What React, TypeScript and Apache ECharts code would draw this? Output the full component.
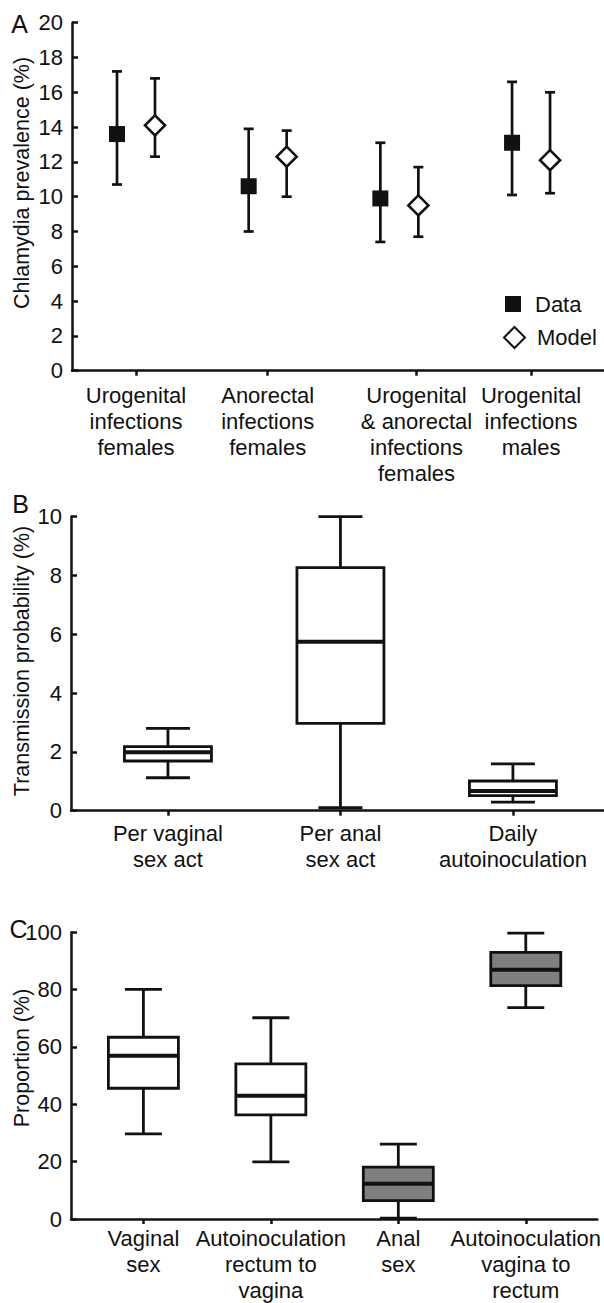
import React, { useEffect, useRef } from "react";
import * as echarts from "echarts";

const FONT = '"Liberation Sans", Arial, Helvetica, sans-serif';
const INK = "#111111";
const GRAY = "#7f7f7f";

// ---------- Panel A: prevalence, data vs model ----------
const aCategories = [
  "Urogenital\ninfections\nfemales",
  "Anorectal\ninfections\nfemales",
  "Urogenital\n& anorectal\ninfections\nfemales",
  "Urogenital\ninfections\nmales",
];
const aLabelPositions = [0, 1, 2.13, 3];
const aDataMean = [13.6, 10.6, 9.9, 13.1];
const aDataLow = [10.7, 8.0, 7.4, 10.1];
const aDataHigh = [17.2, 13.9, 13.1, 16.6];
const aModelMean = [14.1, 12.3, 9.5, 12.1];
const aModelLow = [12.3, 10.0, 7.7, 10.2];
const aModelHigh = [16.8, 13.8, 11.7, 16.0];
const aYTicks = { min: 0, max: 20, interval: 2 };

// ---------- Panel B: transmission probability ----------
const bCategories = ["Per vaginal\nsex act", "Per anal\nsex act", "Daily\nautoinoculation"];
const bLow = [1.12, 0.1, 0.29];
const bQ1 = [1.69, 2.97, 0.51];
const bMedian = [1.99, 5.75, 0.67];
const bQ3 = [2.18, 8.27, 1.01];
const bHigh = [2.8, 10.0, 1.59];
const bYTicks = { min: 0, max: 10, interval: 2 };

// ---------- Panel C: proportion ----------
const cCategories = [
  "Vaginal\nsex",
  "Autoinoculation\nrectum to\nvagina",
  "Anal\nsex",
  "Autoinoculation\nvagina to\nrectum",
];
const cLow = [29.7, 19.9, 0.3, 73.7];
const cQ1 = [45.6, 36.3, 6.4, 81.4];
const cMedian = [56.9, 43.0, 12.3, 86.9];
const cQ3 = [63.4, 54.1, 18.1, 93.0];
const cHigh = [80.1, 70.2, 26.1, 99.7];
const cYTicks = { min: 0, max: 100, interval: 20 };
const cFills = ["#ffffff", "#ffffff", GRAY, GRAY];

function labelFormatter(positions: number[], labels: string[]) {
  return (v: number) => {
    let best = 0;
    let bd = Infinity;
    positions.forEach((p, i) => {
      const d = Math.abs(p - v);
      if (d < bd) {
        bd = d;
        best = i;
      }
    });
    return labels[best];
  };
}

function errorBarRender(offsetPx: number, halfCap: number) {
  return (_params: any, api: any) => {
    const x = api.value(0);
    const pLo = api.coord([x, api.value(1)]);
    const pHi = api.coord([x, api.value(2)]);
    const cx = pLo[0] + offsetPx;
    const style = { stroke: INK, lineWidth: 2.7, fill: null };
    return {
      type: "group",
      children: [
        { type: "line", shape: { x1: cx, y1: pLo[1], x2: cx, y2: pHi[1] }, style },
        { type: "line", shape: { x1: cx - halfCap, y1: pLo[1], x2: cx + halfCap, y2: pLo[1] }, style },
        { type: "line", shape: { x1: cx - halfCap, y1: pHi[1], x2: cx + halfCap, y2: pHi[1] }, style },
      ],
    };
  };
}

function boxRender(boxHalf: number, capHalf: number, fills: string[]) {
  return (params: any, api: any) => {
    const i = api.value(0);
    const low = api.coord([i, api.value(1)]);
    const q1 = api.coord([i, api.value(2)]);
    const med = api.coord([i, api.value(3)]);
    const q3 = api.coord([i, api.value(4)]);
    const high = api.coord([i, api.value(5)]);
    const cx = low[0];
    const st = { stroke: INK, lineWidth: 2.8, fill: null };
    return {
      type: "group",
      children: [
        { type: "line", shape: { x1: cx, y1: low[1], x2: cx, y2: high[1] }, style: st },
        { type: "line", shape: { x1: cx - capHalf, y1: low[1], x2: cx + capHalf, y2: low[1] }, style: st },
        { type: "line", shape: { x1: cx - capHalf, y1: high[1], x2: cx + capHalf, y2: high[1] }, style: st },
        {
          type: "rect",
          shape: { x: cx - boxHalf, y: q3[1], width: boxHalf * 2, height: q1[1] - q3[1] },
          style: { fill: fills[params.dataIndex], stroke: INK, lineWidth: 2.8 },
        },
        {
          type: "line",
          shape: { x1: cx - boxHalf, y1: med[1], x2: cx + boxHalf, y2: med[1] },
          style: { stroke: INK, lineWidth: 4 },
        },
      ],
    };
  };
}

function xAxisCfg(gridIndex: number, min: number, max: number, positions: number[], labels: string[], margin: number) {
  return {
    gridIndex,
    type: "value",
    min,
    max,
    splitLine: { show: false },
    axisLine: { show: true, onZero: false, lineStyle: { color: INK, width: 2.5 } },
    axisTick: { show: true, customValues: positions, length: 5, lineStyle: { color: INK, width: 2.5 } },
    axisLabel: {
      show: true,
      customValues: positions,
      formatter: labelFormatter(positions, labels),
      fontSize: 22,
      lineHeight: 26,
      color: INK,
      fontFamily: FONT,
      margin,
      align: "center",
    },
  };
}

function yAxisCfg(gridIndex: number, t: { min: number; max: number; interval: number }) {
  return {
    gridIndex,
    type: "value",
    min: t.min,
    max: t.max,
    interval: t.interval,
    splitLine: { show: false },
    axisLine: { show: true, onZero: false, lineStyle: { color: INK, width: 2.5 } },
    axisTick: { show: true, inside: true, length: 6, lineStyle: { color: INK, width: 2.5 } },
    axisLabel: { fontSize: 22, color: INK, fontFamily: FONT, margin: 9 },
  };
}

function vText(text: string, x: number, y: number) {
  return {
    type: "text",
    x,
    y,
    rotation: Math.PI / 2,
    style: { text, fill: INK, font: `21.5px ${FONT}`, textAlign: "center", textVerticalAlign: "middle" },
  };
}

function letter(text: string, x: number, y: number) {
  return {
    type: "text",
    x,
    y,
    style: { text, fill: INK, font: `25px ${FONT}`, textAlign: "center", textVerticalAlign: "middle" },
  };
}

export default function App() {
  const ref = useRef<HTMLDivElement>(null);
  useEffect(() => {
    if (!ref.current) return;
    const chart = echarts.init(ref.current, undefined, { renderer: "svg" });
    const option: any = {
      animation: false,
      backgroundColor: "#ffffff",
      textStyle: { fontFamily: FONT, color: INK },
      grid: [
        { left: 72, top: 22.7, right: 0, height: 348 },
        { left: 71, top: 516.7, right: 0, height: 294 },
        { left: 71, top: 932.3, right: 0, height: 287 },
      ],
      xAxis: [
        xAxisCfg(0, -0.486, 3.554, aLabelPositions, aCategories, 12),
        xAxisCfg(1, -0.562, 2.528, bCategories.map((_, i) => i), bCategories, 10),
        xAxisCfg(2, -0.568, 3.561, cCategories.map((_, i) => i), cCategories, 6),
      ],
      yAxis: [yAxisCfg(0, aYTicks), yAxisCfg(1, bYTicks), yAxisCfg(2, cYTicks)],
      legend: [
        {
          data: ["Data"],
          orient: "vertical",
          left: 505,
          top: 293,
          padding: 0,
          itemWidth: 16,
          itemHeight: 16,
          selectedMode: false,
          textStyle: { fontSize: 22, lineHeight: 22, color: INK, fontFamily: FONT, padding: [0, 0, 0, 9] },
        },
        {
          data: ["Model"],
          orient: "vertical",
          left: 503,
          top: 326,
          padding: 0,
          itemWidth: 21,
          itemHeight: 21,
          selectedMode: false,
          textStyle: { fontSize: 22, lineHeight: 22, color: INK, fontFamily: FONT, padding: [0, 0, 0, 7] },
        },
      ],
      graphic: [
        letter("A", 19.5, 23.5),
        letter("B", 20.5, 503.5),
        letter("C", 18.5, 928.5),
        vText("Chlamydia prevalence (%)", 22, 183),
        vText("Transmission probability (%)", 22, 661),
        vText("Proportion (%)", 22, 1058),
      ],
      series: [
        {
          type: "custom",
          name: "dataErr",
          xAxisIndex: 0,
          yAxisIndex: 0,
          renderItem: errorBarRender(-19, 5),
          data: aDataMean.map((_, i) => [i, aDataLow[i], aDataHigh[i]]),
          encode: { x: 0, y: [1, 2] },
          z: 2,
        },
        {
          type: "custom",
          name: "modelErr",
          xAxisIndex: 0,
          yAxisIndex: 0,
          renderItem: errorBarRender(19, 5),
          data: aModelMean.map((_, i) => [i, aModelLow[i], aModelHigh[i]]),
          encode: { x: 0, y: [1, 2] },
          z: 2,
        },
        {
          type: "scatter",
          name: "Data",
          xAxisIndex: 0,
          yAxisIndex: 0,
          symbol: "rect",
          symbolSize: 16,
          symbolOffset: [-19, 0],
          itemStyle: { color: INK, opacity: 1 },
          data: aDataMean.map((v, i) => [i, v]),
          z: 3,
        },
        {
          type: "scatter",
          name: "Model",
          xAxisIndex: 0,
          yAxisIndex: 0,
          symbol: "diamond",
          symbolSize: [20, 20],
          symbolOffset: [19, 0],
          itemStyle: { color: "#ffffff", borderColor: INK, borderWidth: 2.6, opacity: 1 },
          data: aModelMean.map((v, i) => [i, v]),
          z: 3,
        },
        {
          type: "custom",
          name: "boxB",
          xAxisIndex: 1,
          yAxisIndex: 1,
          renderItem: boxRender(43.5, 22, bCategories.map(() => "#ffffff")),
          data: bCategories.map((_, i) => [i, bLow[i], bQ1[i], bMedian[i], bQ3[i], bHigh[i]]),
          encode: { x: 0, y: [1, 5] },
        },
        {
          type: "custom",
          name: "boxC",
          xAxisIndex: 2,
          yAxisIndex: 2,
          renderItem: boxRender(35, 18.5, cFills),
          data: cCategories.map((_, i) => [i, cLow[i], cQ1[i], cMedian[i], cQ3[i], cHigh[i]]),
          encode: { x: 0, y: [1, 5] },
        },
      ],
    };
    chart.setOption(option);
    return () => chart.dispose();
  }, []);
  return (
    <div
      ref={ref}
      style={{ position: "absolute", left: 0, top: 0, width: 604, height: 1303, background: "#fff" }}
    />
  );
}
